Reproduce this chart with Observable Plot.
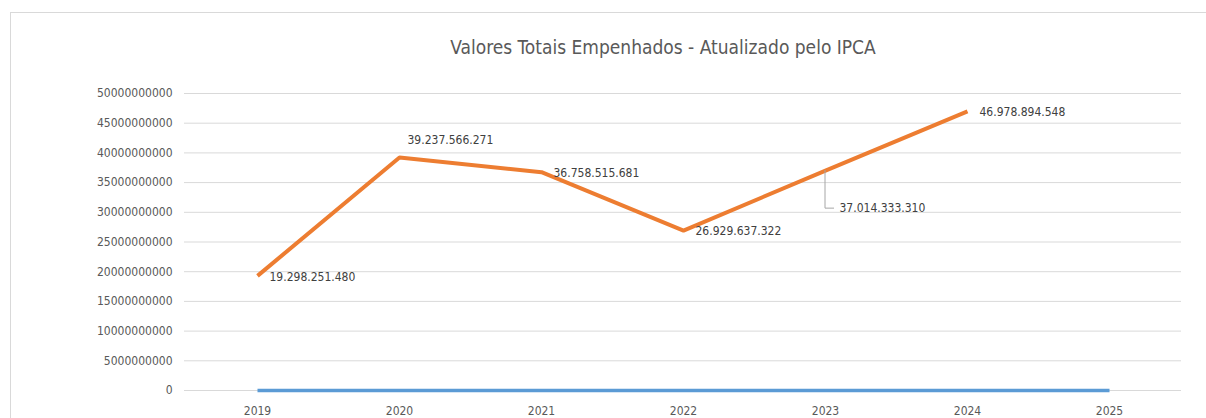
<!DOCTYPE html>
<html>
<head>
<meta charset="utf-8">
<script src="https://cdn.jsdelivr.net/npm/d3@7"></script>
<script src="https://cdn.jsdelivr.net/npm/@observablehq/plot@0.6"></script>
<style>
  html, body { margin: 0; padding: 0; background: #fff; }
  #wrap { position: relative; width: 1206px; height: 418px; overflow: hidden; font-family: "DejaVu Sans Condensed", "Liberation Sans", sans-serif; }
  #frame { position: absolute; left: 10px; top: 12px; width: 1220px; height: 440px; border: 1px solid #d9d9d9; box-sizing: border-box; }
  #title { position: absolute; left: 0; width: 1326px; top: 34px; text-align: center; font-size: 19px; color: #595959; line-height: 26px; }
  #chart { position: absolute; left: 0; top: 0; }
</style>
</head>
<body>
<div id="wrap">
  <div id="frame"></div>
  <div id="title">Valores Totais Empenhados - Atualizado pelo IPCA</div>
  <div id="chart"></div>
</div>
<script>
const years = ["2019", "2020", "2021", "2022", "2023", "2024", "2025"];
const empenhado = [19298251480, 39237566271, 36758515681, 26929637322, 37014333310, 46978894548, null];
const empenhadoLabels = ["19.298.251.480", "39.237.566.271", "36.758.515.681", "26.929.637.322", "37.014.333.310", "46.978.894.548", null];
const serieBase = [0, 0, 0, 0, 0, 0, 0];
const yTicks = [0, 5000000000, 10000000000, 15000000000, 20000000000, 25000000000, 30000000000, 35000000000, 40000000000, 45000000000, 50000000000];

const orange = years.map((y, i) => ({year: y, value: empenhado[i], label: empenhadoLabels[i]})).filter(d => d.value != null);
const blue = years.map((y, i) => ({year: y, value: serieBase[i]}));

const labelRight = orange.filter(d => ["2019", "2021", "2022", "2024"].includes(d.year));
const labelAbove = orange.filter(d => d.year === "2020");
const labelCallout = orange.filter(d => d.year === "2023");

const font = '"DejaVu Sans Condensed", "Liberation Sans", sans-serif';

const leader = (index, scales) => {
  const g = d3.create("svg:g");
  for (const d of labelCallout) {
    const px = scales.x(d.year), py = scales.y(d.value);
    g.append("path")
      .attr("d", `M${px},${py}V${py + 38}H${px + 9}`)
      .attr("fill", "none")
      .attr("stroke", "#a6a6a6")
      .attr("stroke-width", 1);
  }
  return g.node();
};

const chart = Plot.plot({
  width: 1206,
  height: 418,
  marginLeft: 184,
  marginRight: 25,
  marginTop: 93,
  marginBottom: 28,
  style: {fontFamily: font, fontSize: "12px", color: "#595959", background: "transparent", overflow: "visible"},
  x: {type: "point", domain: years, padding: 0.5, label: null},
  y: {domain: [0, 50000000000], label: null},
  marks: [
    Plot.gridY(yTicks, {stroke: "#d9d9d9", strokeOpacity: 1, strokeWidth: 1}),
    Plot.axisY(yTicks, {tickSize: 0, tickPadding: 12, tickFormat: d3.format("d"), fontSize: 12, fill: "#595959", label: null}),
    Plot.axisX({tickSize: 0, tickPadding: 16, fontSize: 12, fill: "#595959", label: null}),
    Plot.line(blue, {x: "year", y: "value", stroke: "#5b9bd5", strokeWidth: 3.5, strokeLinecap: "butt"}),
    Plot.line(orange, {x: "year", y: "value", stroke: "#ed7d31", strokeWidth: 4, strokeLinecap: "butt", strokeLinejoin: "miter"}),
    leader,
    Plot.text(labelRight, {x: "year", y: "value", text: "label", textAnchor: "start", dx: 12, dy: 1, fill: "#404040", fontSize: 12}),
    Plot.text(labelAbove, {x: "year", y: "value", text: "label", textAnchor: "start", dx: 8, dy: -17, fill: "#404040", fontSize: 12}),
    Plot.text(labelCallout, {x: "year", y: "value", text: "label", textAnchor: "start", dx: 14, dy: 38, fill: "#404040", fontSize: 12})
  ]
});
document.getElementById("chart").appendChild(chart);
</script>
</body>
</html>
